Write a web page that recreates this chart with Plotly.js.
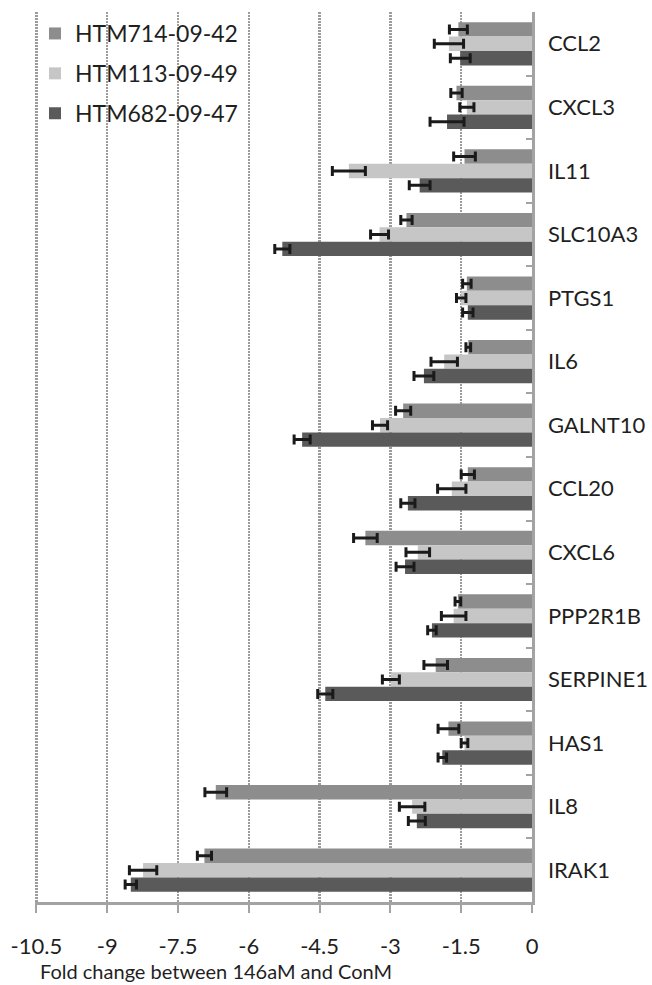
<!DOCTYPE html>
<html><head><meta charset="utf-8">
<script src="https://cdn.plot.ly/plotly-3.0.1.min.js"></script>
<style>html,body{margin:0;padding:0;background:#fff}#chart{width:652px;height:985px}</style>
</head><body><div id="chart"></div>
<script>
const categories = ["CCL2","CXCL3","IL11","SLC10A3","PTGS1","IL6","GALNT10","CCL20","CXCL6","PPP2R1B","SERPINE1","HAS1","IL8","IRAK1"];
const seriesNames = ["HTM714-09-42","HTM113-09-49","HTM682-09-47"];
const htm714 = [-1.56,-1.60,-1.43,-2.66,-1.38,-1.35,-2.73,-1.36,-3.53,-1.57,-2.04,-1.77,-6.70,-6.94];
const err714 = [0.19,0.12,0.23,0.12,0.09,0.05,0.16,0.14,0.25,0.06,0.25,0.22,0.23,0.15];
const htm113 = [-1.76,-1.38,-3.88,-3.23,-1.50,-1.86,-3.22,-1.70,-2.42,-1.66,-2.99,-1.43,-2.54,-8.24];
const err113 = [0.31,0.15,0.35,0.19,0.10,0.28,0.16,0.30,0.25,0.26,0.18,0.07,0.27,0.29];
const htm682 = [-1.52,-1.80,-2.38,-5.29,-1.36,-2.29,-4.87,-2.63,-2.69,-2.12,-4.38,-1.90,-2.44,-8.50];
const err682 = [0.21,0.36,0.22,0.16,0.11,0.21,0.17,0.15,0.19,0.09,0.16,0.09,0.18,0.12];
const xTickVals = [-10.5,-9,-7.5,-6,-4.5,-3,-1.5,0];
const xTickText = ["-10.5","-9","-7.5","-6","-4.5","-3","-1.5","0"];
const xTitle = "Fold change between 146aM and ConM";

const colors = ["#8d8d8d","#c6c6c6","#5a5a5a"];
const values = [htm714, htm113, htm682];
const errors = [err714, err113, err682];
const FONT = "Lato, 'Open Sans', sans-serif";
const TXT = "#1f1f1f";
const AX = "#a3a3a3";

const traces = seriesNames.map((name, i) => ({
  type: "bar", orientation: "h", name: name,
  x: values[i], y: categories,
  marker: {color: colors[i], line: {width: 0}},
  error_x: {type: "data", array: errors[i], visible: true, color: "#1a1a1a", thickness: 3, width: 5},
  legendgroup: "g" + i
}));

const layout = {
  width: 652, height: 985,
  margin: {l: 35, r: 120, t: 12, b: 83, pad: 0},
  paper_bgcolor: "#ffffff", plot_bgcolor: "#ffffff",
  font: {family: FONT, size: 22, color: TXT},
  barmode: "group", bargap: 0.32, bargroupgap: 0,
  showlegend: true,
  legend: {x: 0.0, y: 1.0, xanchor: "left", yanchor: "top", bgcolor: "rgba(0,0,0,0)",
           font: {family: FONT, size: 23, color: TXT}, traceorder: "grouped", tracegroupgap: 7},
  xaxis: {
    range: [-10.53, 0], tickmode: "array", tickvals: xTickVals, ticktext: xTickText,
    showgrid: true, gridcolor: "#9c9c9c", griddash: "2px,1px", gridwidth: 2.5,
    showline: true, linecolor: AX, linewidth: 2.5, zeroline: false,
    ticks: "outside", ticklen: 8, tickwidth: 2, tickcolor: AX,
    ticklabelstandoff: 15,
    tickfont: {family: FONT, size: 22, color: TXT},
    fixedrange: true
  },
  yaxis: {
    type: "category", range: [13.5, -0.5], side: "right",
    showgrid: false, showline: true, linecolor: AX, linewidth: 2.5, zeroline: false,
    ticks: "inside", tickson: "boundaries", ticklen: 6, tickwidth: 2, tickcolor: AX,
    ticklabelstandoff: 9,
    tickfont: {family: FONT, size: 22, color: TXT},
    fixedrange: true
  },
  annotations: [{
    text: xTitle, xref: "paper", yref: "paper", x: 0.006, y: -0.0775,
    xanchor: "left", yanchor: "middle", showarrow: false,
    font: {family: FONT, size: 20, color: TXT}
  }]
};

Plotly.newPlot("chart", traces, layout, {displayModeBar: false, staticPlot: true});
</script>
</body></html>
